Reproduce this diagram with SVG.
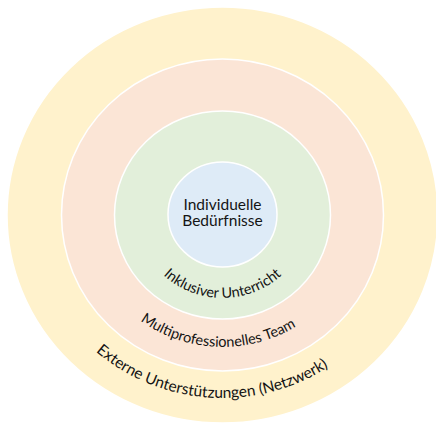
<svg xmlns="http://www.w3.org/2000/svg" width="436" height="424" viewBox="0 0 436 424">
  <style>
    .ring { stroke: #ffffff; stroke-width: 1.5; }
    .lbl { font-family: Lato, "Open Sans", "Liberation Sans", sans-serif; fill: #141414; }
    .ringlbl { font-size: 14.5px; }
    .ext { font-size: 15.5px; }
    .center { font-size: 15.5px; text-anchor: middle; }
  </style>
  <defs>
    <path id="arcInk" d="M 136.5 215 A 86 83 0 0 0 308.5 215"/>
    <path id="arcMul" d="M 85.5 215 A 137 132 0 0 0 359.5 215"/>
    <path id="arcExt" d="M 32.5 215 A 190 183 0 0 0 412.5 215"/>
  </defs>
  <rect width="436" height="424" fill="#ffffff"/>
  <g id="externe">
    <ellipse class="ring" cx="222.5" cy="215" rx="215.5" ry="208" fill="#FFF2CC"/>
    <text class="lbl ext"><textPath href="#arcExt" startOffset="47.8%" text-anchor="middle">Externe Unterstützungen (Netzwerk)</textPath></text>
  </g>
  <g id="team">
    <ellipse class="ring" cx="222.5" cy="215" rx="161" ry="156" fill="#FBE5D6"/>
    <text class="lbl ringlbl"><textPath href="#arcMul" startOffset="48.8%" text-anchor="middle">Multiprofessionelles Team</textPath></text>
  </g>
  <g id="unterricht">
    <ellipse class="ring" cx="222.5" cy="215" rx="108" ry="104" fill="#E2EFDA"/>
    <text class="lbl ringlbl"><textPath href="#arcInk" startOffset="50%" text-anchor="middle">Inklusiver Unterricht</textPath></text>
  </g>
  <g id="beduerfnisse">
    <ellipse class="ring" cx="222.5" cy="214.5" rx="54.5" ry="52.5" fill="#DEEBF7"/>
    <text class="lbl center" x="222.5" y="210">Individuelle</text>
    <text class="lbl center" x="222.5" y="226">Bedürfnisse</text>
  </g>
</svg>
